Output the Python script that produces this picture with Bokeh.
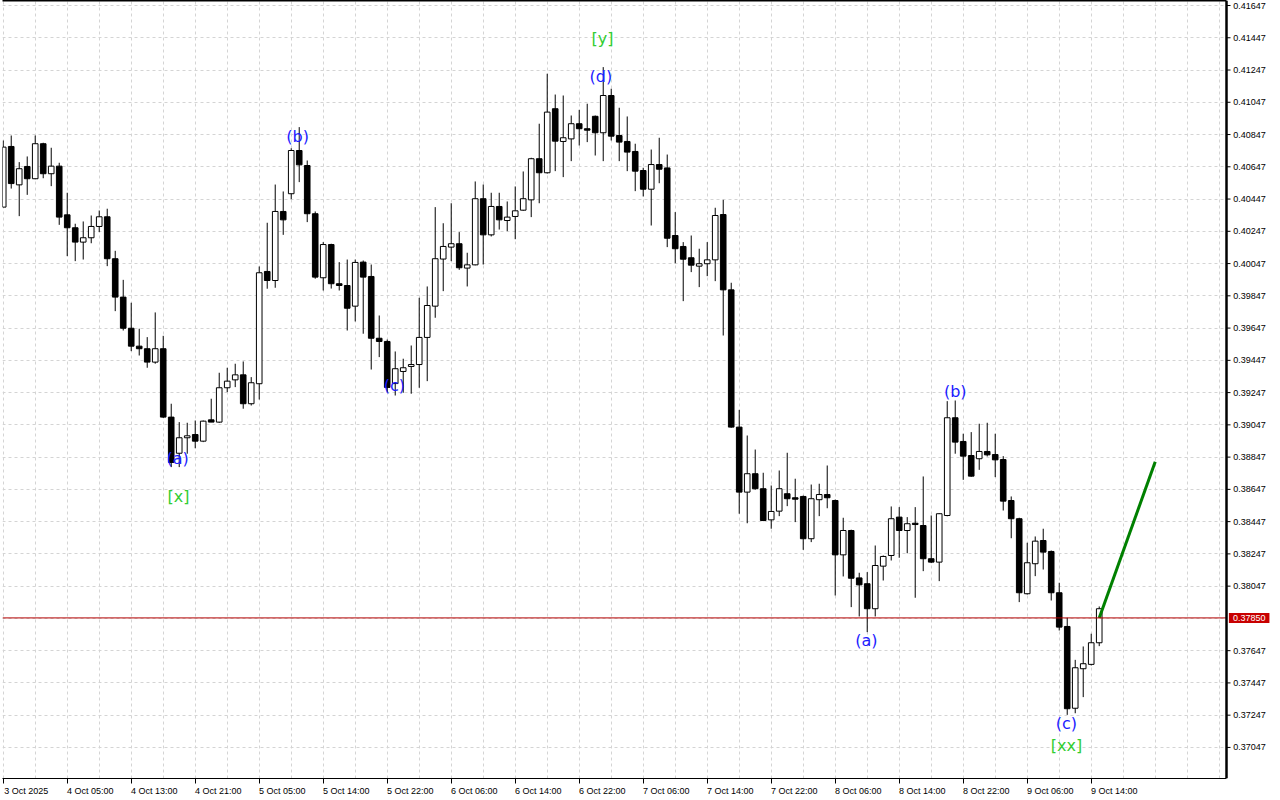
from bokeh.plotting import figure
from bokeh.models import (ColumnDataSource, Range1d, FixedTicker, Label, LabelSet, Span,
                          BoxAnnotation)
from bokeh.embed import file_html
from bokeh.resources import INLINE
from bokeh.core.properties import value

# ---- data (H1 candles) ----
opens = [0.40397, 0.40773, 0.40535, 0.40649, 0.40573, 0.40790, 0.40604, 0.40651, 0.40349, 0.40269,
         0.40180, 0.40207, 0.40277, 0.40337, 0.40077, 0.39839, 0.39646, 0.39535, 0.39519, 0.39436,
         0.39519, 0.39095, 0.38871, 0.38967, 0.38987, 0.38946, 0.39078, 0.39064, 0.39277, 0.39326,
         0.39357, 0.39178, 0.39302, 0.39998, 0.39942, 0.40370, 0.40480, 0.40748, 0.40655, 0.40356,
         0.39959, 0.40165, 0.39922, 0.39911, 0.39783, 0.40056, 0.39967, 0.39584, 0.39564, 0.39303,
         0.39378, 0.39409, 0.39421, 0.39589, 0.39783, 0.40075, 0.40149, 0.40170, 0.40019, 0.40039,
         0.40449, 0.40225, 0.40401, 0.40314, 0.40339, 0.40378, 0.40442, 0.40697, 0.40610, 0.41007,
         0.40804, 0.40820, 0.40914, 0.40883, 0.40960, 0.40858, 0.41089, 0.40841, 0.40804, 0.40742,
         0.40624, 0.40508, 0.40661, 0.40640, 0.40221, 0.40153, 0.40083, 0.40031, 0.40046, 0.40070,
         0.40351, 0.39884, 0.39033, 0.38630, 0.38744, 0.38651, 0.38458, 0.38512, 0.38620, 0.38595,
         0.38603, 0.38341, 0.38583, 0.38615, 0.38578, 0.38241, 0.38392, 0.38098, 0.38062, 0.37907,
         0.38171, 0.38237, 0.38475, 0.38392, 0.38437, 0.38423, 0.38217, 0.38196, 0.38485, 0.39091,
         0.38944, 0.38857, 0.38837, 0.38882, 0.38863, 0.38832, 0.38578, 0.38465, 0.38000, 0.38186,
         0.38330, 0.38262, 0.38006, 0.37797, 0.37290, 0.37535, 0.37562, 0.37696]
highs = [0.40810, 0.40841, 0.40676, 0.40711, 0.40841, 0.40796, 0.40765, 0.40672, 0.40486, 0.40294,
         0.40308, 0.40345, 0.40376, 0.40387, 0.40126, 0.39946, 0.39804, 0.39643, 0.39591, 0.39744,
         0.39599, 0.39178, 0.39064, 0.39060, 0.39074, 0.39074, 0.39209, 0.39370, 0.39401, 0.39426,
         0.39440, 0.39343, 0.40029, 0.40300, 0.40537, 0.40494, 0.40762, 0.40893, 0.40686, 0.40370,
         0.40180, 0.40170, 0.40056, 0.40072, 0.40072, 0.40066, 0.40041, 0.39725, 0.39576, 0.39502,
         0.39457, 0.39539, 0.39835, 0.39905, 0.40397, 0.40297, 0.40421, 0.40242, 0.40114, 0.40556,
         0.40537, 0.40486, 0.40486, 0.40432, 0.40525, 0.40618, 0.40703, 0.40914, 0.41224, 0.41095,
         0.41089, 0.40965, 0.41000, 0.41038, 0.40965, 0.41265, 0.41131, 0.41013, 0.40959, 0.40790,
         0.40641, 0.40754, 0.40827, 0.40723, 0.40366, 0.40180, 0.40221, 0.40139, 0.40180, 0.40393,
         0.40442, 0.39928, 0.39140, 0.38981, 0.38894, 0.38750, 0.38671, 0.38764, 0.38874, 0.38713,
         0.38609, 0.38677, 0.38682, 0.38795, 0.38584, 0.38471, 0.38397, 0.38130, 0.38134, 0.38299,
         0.38237, 0.38541, 0.38537, 0.38475, 0.38537, 0.38727, 0.38485, 0.38499, 0.39194, 0.39198,
         0.38992, 0.39002, 0.39054, 0.39060, 0.38992, 0.38853, 0.38603, 0.38471, 0.38316, 0.38355,
         0.38403, 0.38268, 0.38068, 0.37851, 0.37590, 0.37673, 0.37752, 0.37921]
lows = [0.40397, 0.40512, 0.40341, 0.40473, 0.40570, 0.40576, 0.40527, 0.40287, 0.40093, 0.40062,
        0.40072, 0.40173, 0.40242, 0.40031, 0.39752, 0.39632, 0.39504, 0.39477, 0.39401, 0.39426,
        0.39090, 0.38785, 0.38785, 0.38868, 0.38902, 0.38940, 0.39064, 0.39060, 0.39250, 0.39281,
        0.39147, 0.39167, 0.39204, 0.39891, 0.39897, 0.40225, 0.40446, 0.40552, 0.40304, 0.39953,
        0.39880, 0.39892, 0.39880, 0.39632, 0.39688, 0.39612, 0.39390, 0.39467, 0.39248, 0.39229,
        0.39246, 0.39240, 0.39277, 0.39318, 0.39711, 0.39876, 0.40062, 0.40008, 0.39905, 0.40036,
        0.40041, 0.40215, 0.40258, 0.40248, 0.40198, 0.40374, 0.40335, 0.40421, 0.40605, 0.40620,
        0.40583, 0.40682, 0.40779, 0.40800, 0.40717, 0.40682, 0.40810, 0.40682, 0.40620, 0.40496,
        0.40463, 0.40283, 0.40545, 0.40149, 0.40049, 0.39814, 0.39994, 0.39901, 0.39969, 0.39938,
        0.39601, 0.39029, 0.38496, 0.38437, 0.38645, 0.38450, 0.38403, 0.38481, 0.38543, 0.38444,
        0.38272, 0.38320, 0.38481, 0.38530, 0.37989, 0.38107, 0.37917, 0.37859, 0.37762, 0.37859,
        0.38082, 0.38206, 0.38223, 0.38251, 0.37975, 0.38140, 0.38190, 0.38078, 0.38480, 0.38868,
        0.38706, 0.38725, 0.38768, 0.38851, 0.38723, 0.38516, 0.38344, 0.37948, 0.37995, 0.38109,
        0.38150, 0.37958, 0.37772, 0.37249, 0.37259, 0.37359, 0.37555, 0.37675]
closes = [0.40769, 0.40543, 0.40635, 0.40573, 0.40790, 0.40604, 0.40651, 0.40335, 0.40269, 0.40180,
          0.40207, 0.40277, 0.40337, 0.40077, 0.39839, 0.39646, 0.39535, 0.39519, 0.39436, 0.39519,
          0.39095, 0.38814, 0.38967, 0.38979, 0.38946, 0.39070, 0.39064, 0.39277, 0.39318, 0.39357,
          0.39178, 0.39308, 0.39990, 0.39942, 0.40370, 0.40318, 0.40748, 0.40659, 0.40356, 0.39963,
          0.40165, 0.39922, 0.39911, 0.39770, 0.40054, 0.39963, 0.39584, 0.39564, 0.39279, 0.39395,
          0.39401, 0.39421, 0.39589, 0.39787, 0.40077, 0.40153, 0.40170, 0.40021, 0.40039, 0.40449,
          0.40225, 0.40401, 0.40318, 0.40335, 0.40374, 0.40449, 0.40697, 0.40610, 0.40986, 0.40806,
          0.40827, 0.40914, 0.40883, 0.40874, 0.40858, 0.41089, 0.40837, 0.40800, 0.40738, 0.40620,
          0.40508, 0.40661, 0.40632, 0.40204, 0.40139, 0.40074, 0.40037, 0.40046, 0.40070, 0.40345,
          0.39884, 0.39033, 0.38630, 0.38744, 0.38651, 0.38454, 0.38510, 0.38651, 0.38589, 0.38586,
          0.38341, 0.38589, 0.38615, 0.38595, 0.38241, 0.38392, 0.38096, 0.38055, 0.37907, 0.38175,
          0.38231, 0.38465, 0.38392, 0.38434, 0.38429, 0.38217, 0.38196, 0.38496, 0.39091, 0.38940,
          0.38853, 0.38729, 0.38882, 0.38861, 0.38830, 0.38574, 0.38465, 0.38006, 0.38192, 0.38326,
          0.38258, 0.38006, 0.37793, 0.37287, 0.37541, 0.37566, 0.37696, 0.37907]

time_labels = ["3 Oct 2025", "4 Oct 05:00", "4 Oct 13:00", "4 Oct 21:00", "5 Oct 05:00",
               "5 Oct 14:00", "5 Oct 22:00", "6 Oct 06:00", "6 Oct 14:00", "6 Oct 22:00",
               "7 Oct 06:00", "7 Oct 14:00", "7 Oct 22:00", "8 Oct 06:00", "8 Oct 14:00",
               "8 Oct 22:00", "9 Oct 06:00", "9 Oct 14:00"]
bars_per_label = 8

price_ticks = [0.37047, 0.37247, 0.37447, 0.37647, 0.37847, 0.38047, 0.38247, 0.38447, 0.38647,
               0.38847, 0.39047, 0.39247, 0.39447, 0.39647, 0.39847, 0.40047, 0.40247, 0.40447,
               0.40647, 0.40847, 0.41047, 0.41247, 0.41447, 0.41647]
current_price = 0.37850

wave_text = ["(a)", "[x]", "(b)", "(c)", "(d)", "[y]", "(a)", "(b)", "(c)", "[xx]"]
wave_bar = [21.8, 21.9, 36.8, 48.9, 74.7, 74.9, 107.9, 119.0, 132.9, 132.9]
wave_price = [0.38838, 0.38603, 0.40835, 0.39291, 0.41207, 0.41442, 0.37710, 0.39254, 0.37195, 0.37059]

proj_bar = [137, 144]
proj_price = [0.37850, 0.38818]

# ---- layout constants ----
X0 = -0.09          # left edge of the chart (in bars)
AXIS_X = 152.91     # where the price scale starts (in bars)
X1 = 159.66         # right edge of the page (in bars)
Y0, Y1 = 0.368544, 0.41678

# ---- build ----
n = len(opens)
idx = list(range(n))
tops = [max(o, c) for o, c in zip(opens, closes)]
bots = [min(o, c) for o, c in zip(opens, closes)]
fills = ["white" if c >= o else "black" for o, c in zip(opens, closes)]
src = ColumnDataSource(dict(x=idx, h=highs, l=lows, t=tops, b=bots, f=fills))

p = figure(width=1280, height=800, output_backend="svg", toolbar_location=None,
           x_range=Range1d(X0, X1), y_range=Range1d(Y0, Y1),
           y_axis_location=None, min_border_left=2, min_border_right=0,
           min_border_top=0, min_border_bottom=22)
p.background_fill_color = "white"
p.border_fill_color = "white"
p.outline_line_color = None

# grids
p.xgrid.ticker = FixedTicker(ticks=list(range(0, 153, 4)))
p.ygrid.ticker = FixedTicker(ticks=price_ticks)
for g in (p.xgrid, p.ygrid):
    g.grid_line_color = "#d4d4d4"
    g.grid_line_dash = "3 3"
    g.grid_line_width = 1

# x axis: tick marks at the label bars (minor ticks), label text to the right of them
xt = list(range(0, n, bars_per_label))
label_shift = 2.875
xl = [t + label_shift for t in xt]
p.xaxis.ticker = FixedTicker(ticks=xl, minor_ticks=xt)
p.xaxis.major_label_overrides = {t: lab for t, lab in zip(xl, time_labels)}
p.xaxis.bounds = (X0, AXIS_X)
p.xaxis.major_tick_out = 0
p.xaxis.major_tick_in = 0
p.xaxis.minor_tick_out = 5
p.xaxis.minor_tick_in = 0
p.xaxis.minor_tick_line_color = "black"
p.xaxis.major_label_standoff = 2
p.xaxis.axis_line_color = "black"
p.xaxis.axis_line_width = 1
p.xaxis.major_label_text_font = "Liberation Sans"
p.xaxis.major_label_text_font_size = "9px"
p.xaxis.major_label_text_color = "black"

# current price line
p.add_layout(Span(location=current_price, dimension="width", line_color="#b40000", line_width=1))

# candles
p.segment(x0="x", y0="l", x1="x", y1="h", source=src, line_color="black", line_width=1)
p.vbar(x="x", width=0.7, top="t", bottom="b", source=src, fill_color="f", line_color="black", line_width=1)

# projection line
p.line(proj_bar, proj_price, line_color="#008000", line_width=3)

# wave labels
wcol = ["#1c1cff" if t.startswith("(") else "#32cd32" for t in wave_text]
wsrc = ColumnDataSource(dict(x=wave_bar, y=wave_price, t=wave_text, c=wcol))
p.text(x="x", y="y", text="t", source=wsrc, text_color="c", text_align="center",
       text_baseline="middle", text_font=value("DejaVu Sans"), text_font_size="16px")

# ---- price scale on the right ----
p.add_layout(BoxAnnotation(left=AXIS_X, fill_color="white", fill_alpha=1.0, line_alpha=0))
shown = [t for t in price_ticks if abs(t - current_price) > 0.0005]
tsrc = ColumnDataSource(dict(y=shown, x0=[AXIS_X] * len(shown), x1=[AXIS_X + 0.5] * len(shown),
                             xl=[AXIS_X + 0.85] * len(shown), s=["%.5f" % t for t in shown]))
p.segment(x0="x0", y0="y", x1="x1", y1="y", source=tsrc, line_color="black", line_width=1,
          level="overlay")
p.add_layout(LabelSet(x="xl", y="y", text="s", source=tsrc, text_font=value("Liberation Sans"),
                      text_font_size="9px", text_color="black", text_align="left",
                      text_baseline="middle", level="overlay"))
p.add_layout(Span(location=AXIS_X, dimension="height", line_color="black", line_width=2.5,
                  level="overlay"))
p.segment(x0=[X0], y0=[Y1], x1=[AXIS_X], y1=[Y1], line_color="black", line_width=2, level="overlay")

# current price tag
p.add_layout(Label(x=AXIS_X + 0.3, y=current_price, text="%.5f" % current_price, text_color="white",
                   text_font="Liberation Sans", text_font_size="9px", text_baseline="middle",
                   background_fill_color="#c80000", padding=(4, 2), level="overlay"))

open("out.html", "w").write(file_html(p, INLINE))
